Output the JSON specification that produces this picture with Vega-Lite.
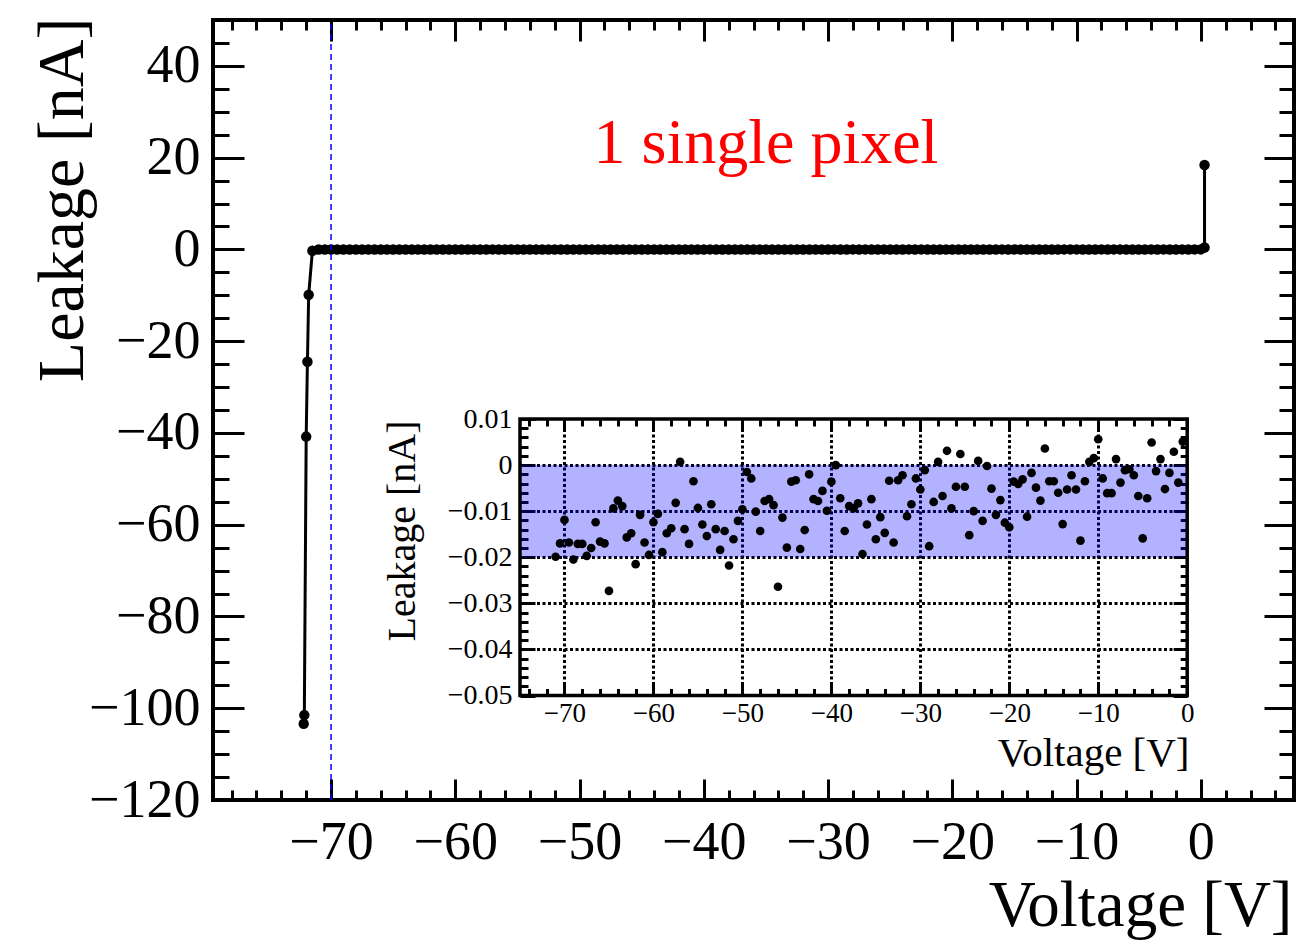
{
  "$schema": "https://vega.github.io/schema/vega-lite/v6.json",
  "width": 1081,
  "height": 780,
  "autosize": {"type": "none"},
  "padding": {"left": 213, "top": 20, "right": 2, "bottom": 140},
  "background": "white",
  "config": {
    "view": {"stroke": "black", "strokeWidth": 4},
    "axis": {
      "labelFont": "Liberation Serif",
      "titleFont": "Liberation Serif",
      "titleFontWeight": "normal",
      "labelColor": "black",
      "titleColor": "black",
      "tickColor": "black",
      "tickWidth": 3,
      "domain": false,
      "grid": false,
      "labelFlush": false,
      "labelOverlap": false,
      "labelBound": false,
      "zindex": 0
    }
  },
  "datasets": {
    "iv": [
      {"k":0,"v":-72.2,"I":-103.4},{"k":1,"v":-72.15,"I":-101.5},{"k":2,"v":-72.0,"I":-40.8},{"k":3,"v":-71.9,"I":-24.5},{"k":4,"v":-71.8,"I":-9.9},{"k":5,"v":-71.5,"I":-0.3},
      {"k":6,"v":-71,"I":-0.0199},{"k":7,"v":-70.5,"I":-0.017},{"k":8,"v":-70,"I":-0.0119},{"k":9,"v":-69.5,"I":-0.0168},{"k":10,"v":-69,"I":-0.0205},
      {"k":11,"v":-68.5,"I":-0.0171},{"k":12,"v":-68,"I":-0.0171},{"k":13,"v":-67.5,"I":-0.0197},{"k":14,"v":-67,"I":-0.018},{"k":15,"v":-66.5,"I":-0.0124},
      {"k":16,"v":-66,"I":-0.0166},{"k":17,"v":-65.5,"I":-0.017},{"k":18,"v":-65,"I":-0.0273},{"k":19,"v":-64.5,"I":-0.0094},{"k":20,"v":-64,"I":-0.0077},
      {"k":21,"v":-63.5,"I":-0.0089},{"k":22,"v":-63,"I":-0.0157},{"k":23,"v":-62.5,"I":-0.0148},{"k":24,"v":-62,"I":-0.0215},{"k":25,"v":-61.5,"I":-0.0108},
      {"k":26,"v":-61,"I":-0.0168},{"k":27,"v":-60.5,"I":-0.0195},{"k":28,"v":-60,"I":-0.0124},{"k":29,"v":-59.5,"I":-0.0106},{"k":30,"v":-59,"I":-0.0189},
      {"k":31,"v":-58.5,"I":-0.0148},{"k":32,"v":-58,"I":-0.0137},{"k":33,"v":-57.5,"I":-0.0082},{"k":34,"v":-57,"I":0.0007},{"k":35,"v":-56.5,"I":-0.0139},
      {"k":36,"v":-56,"I":-0.0171},{"k":37,"v":-55.5,"I":-0.0035},{"k":38,"v":-55,"I":-0.0093},{"k":39,"v":-54.5,"I":-0.0129},{"k":40,"v":-54,"I":-0.0154},
      {"k":41,"v":-53.5,"I":-0.0085},{"k":42,"v":-53,"I":-0.0139},{"k":43,"v":-52.5,"I":-0.0184},{"k":44,"v":-52,"I":-0.0143},{"k":45,"v":-51.5,"I":-0.0218},
      {"k":46,"v":-51,"I":-0.0161},{"k":47,"v":-50.5,"I":-0.0121},{"k":48,"v":-50,"I":-0.0096},{"k":49,"v":-49.5,"I":-0.0015},{"k":50,"v":-49,"I":-0.0029},
      {"k":51,"v":-48.5,"I":-0.0101},{"k":52,"v":-48,"I":-0.0143},{"k":53,"v":-47.5,"I":-0.0078},{"k":54,"v":-47,"I":-0.0074},{"k":55,"v":-46.5,"I":-0.0087},
      {"k":56,"v":-46,"I":-0.0264},{"k":57,"v":-45.5,"I":-0.0114},{"k":58,"v":-45,"I":-0.0179},{"k":59,"v":-44.5,"I":-0.0036},{"k":60,"v":-44,"I":-0.0033},
      {"k":61,"v":-43.5,"I":-0.0182},{"k":62,"v":-43,"I":-0.0141},{"k":63,"v":-42.5,"I":-0.002},{"k":64,"v":-42,"I":-0.0074},{"k":65,"v":-41.5,"I":-0.0078},
      {"k":66,"v":-41,"I":-0.0056},{"k":67,"v":-40.5,"I":-0.0099},{"k":68,"v":-40,"I":-0.0036},{"k":69,"v":-39.5,"I":0.0},{"k":70,"v":-39,"I":-0.0072},
      {"k":71,"v":-38.5,"I":-0.0143},{"k":72,"v":-38,"I":-0.0089},{"k":73,"v":-37.5,"I":-0.0094},{"k":74,"v":-37,"I":-0.0083},{"k":75,"v":-36.5,"I":-0.0193},
      {"k":76,"v":-36,"I":-0.0129},{"k":77,"v":-35.5,"I":-0.0074},{"k":78,"v":-35,"I":-0.0161},{"k":79,"v":-34.5,"I":-0.0113},{"k":80,"v":-34,"I":-0.0147},
      {"k":81,"v":-33.5,"I":-0.0034},{"k":82,"v":-33,"I":-0.0168},{"k":83,"v":-32.5,"I":-0.0033},{"k":84,"v":-32,"I":-0.0022},{"k":85,"v":-31.5,"I":-0.0111},
      {"k":86,"v":-31,"I":-0.0085},{"k":87,"v":-30.5,"I":-0.0029},{"k":88,"v":-30,"I":-0.0053},{"k":89,"v":-29.5,"I":-0.0011},{"k":90,"v":-29,"I":-0.0176},
      {"k":91,"v":-28.5,"I":-0.008},{"k":92,"v":-28,"I":0.0007},{"k":93,"v":-27.5,"I":-0.0067},{"k":94,"v":-27,"I":0.0031},{"k":95,"v":-26.5,"I":-0.0094},
      {"k":96,"v":-26,"I":-0.0047},{"k":97,"v":-25.5,"I":0.0024},{"k":98,"v":-25,"I":-0.0047},{"k":99,"v":-24.5,"I":-0.0152},{"k":100,"v":-24,"I":-0.01},
      {"k":101,"v":-23.5,"I":0.0009},{"k":102,"v":-23,"I":-0.0121},{"k":103,"v":-22.5,"I":-0.0002},{"k":104,"v":-22,"I":-0.0051},{"k":105,"v":-21.5,"I":-0.0108},
      {"k":106,"v":-21,"I":-0.0076},{"k":107,"v":-20.5,"I":-0.0125},{"k":108,"v":-20,"I":-0.0135},{"k":109,"v":-19.5,"I":-0.0036},{"k":110,"v":-19,"I":-0.0041},
      {"k":111,"v":-18.5,"I":-0.0031},{"k":112,"v":-18,"I":-0.0112},{"k":113,"v":-17.5,"I":-0.0017},{"k":114,"v":-17,"I":-0.0049},{"k":115,"v":-16.5,"I":-0.0077},
      {"k":116,"v":-16,"I":0.0036},{"k":117,"v":-15.5,"I":-0.0035},{"k":118,"v":-15,"I":-0.0035},{"k":119,"v":-14.5,"I":-0.006},{"k":120,"v":-14,"I":-0.0128},
      {"k":121,"v":-13.5,"I":-0.0053},{"k":122,"v":-13,"I":-0.0022},{"k":123,"v":-12.5,"I":-0.0053},{"k":124,"v":-12,"I":-0.0164},{"k":125,"v":-11.5,"I":-0.0035},
      {"k":126,"v":-11,"I":0.0007},{"k":127,"v":-10.5,"I":0.0015},{"k":128,"v":-10,"I":0.0056},{"k":129,"v":-9.5,"I":-0.0029},{"k":130,"v":-9,"I":-0.0061},
      {"k":131,"v":-8.5,"I":-0.0061},{"k":132,"v":-8,"I":0.0013},{"k":133,"v":-7.5,"I":-0.0038},{"k":134,"v":-7,"I":-0.0011},{"k":135,"v":-6.5,"I":-0.0009},
      {"k":136,"v":-6,"I":-0.0022},{"k":137,"v":-5.5,"I":-0.0067},{"k":138,"v":-5,"I":-0.0159},{"k":139,"v":-4.5,"I":-0.0072},{"k":140,"v":-4,"I":0.0049},
      {"k":141,"v":-3.5,"I":-0.0013},{"k":142,"v":-3,"I":0.0013},{"k":143,"v":-2.5,"I":-0.0052},{"k":144,"v":-2,"I":-0.0017},{"k":145,"v":-1.5,"I":0.0029},
      {"k":146,"v":-1,"I":-0.0038},{"k":147,"v":-0.5,"I":0.0051},{"k":148,"v":0,"I":0.0},{"k":149,"v":0.3,"I":0.4},{"k":150,"v":0.3,"I":18.4}
    ]
  },
  "resolve": {"scale": {"x": "independent", "y": "independent"}, "axis": {"x": "independent", "y": "independent"}},
  "layer": [
    {
      "resolve": {"axis": {"x": "independent", "y": "independent"}},
      "layer": [
        {
          "data": {"name": "iv"},
          "mark": {"type": "line", "color": "black", "strokeWidth": 3},
          "encoding": {
            "x": {"field": "v", "type": "quantitative", "scale": {"domain": [-79.5, 7.5], "nice": false, "zero": false},
              "axis": {"orient": "bottom", "values": [-70, -60, -50, -40, -30, -20, -10, 0], "tickSize": -21, "labelFontSize": 54, "labelPadding": 63, "labelBaseline": "middle", "format": "d",
                "title": "Voltage [V]", "titleFontSize": 65, "titleX": 1079, "titleY": 125, "titleAlign": "right", "titleBaseline": "alphabetic", "titleAngle": 0}},
            "y": {"field": "I", "type": "quantitative", "scale": {"domain": [-120, 50], "nice": false, "zero": false},
              "axis": {"orient": "left", "values": [-120, -100, -80, -60, -40, -20, 0, 20, 40], "tickSize": -31, "labelFontSize": 54, "labelPadding": 44, "format": "d",
                "title": "Leakage [nA]", "titleFontSize": 66, "titleX": -131, "titleY": -3, "titleAlign": "right", "titleBaseline": "alphabetic", "titleAngle": 270}},
            "order": {"field": "k", "type": "quantitative"}
          }
        },
        {
          "data": {"name": "iv"},
          "mark": {"type": "circle", "color": "black", "size": 110, "opacity": 1},
          "encoding": {
            "x": {"field": "v", "type": "quantitative", "scale": {"domain": [-79.5, 7.5], "nice": false, "zero": false},
              "axis": {"orient": "bottom", "values": [-78,-76,-74,-72,-70,-68,-66,-64,-62,-60,-58,-56,-54,-52,-50,-48,-46,-44,-42,-40,-38,-36,-34,-32,-30,-28,-26,-24,-22,-20,-18,-16,-14,-12,-10,-8,-6,-4,-2,0,2,4,6], "tickSize": -10, "labels": false, "title": null}},
            "y": {"field": "I", "type": "quantitative", "scale": {"domain": [-120, 50], "nice": false, "zero": false},
              "axis": {"orient": "left", "values": [-120,-115,-110,-105,-100,-95,-90,-85,-80,-75,-70,-65,-60,-55,-50,-45,-40,-35,-30,-25,-20,-15,-10,-5,0,5,10,15,20,25,30,35,40,45,50], "tickSize": -16, "labels": false, "title": null}}
          }
        },
        {
          "data": {"values": [{}]},
          "mark": {"type": "rule", "color": "#0000ff", "strokeWidth": 1.5, "strokeDash": [6, 4]},
          "encoding": {
            "x": {"datum": -70, "type": "quantitative", "scale": {"domain": [-79.5, 7.5], "nice": false, "zero": false},
              "axis": {"orient": "top", "values": [-70, -60, -50, -40, -30, -20, -10, 0], "tickSize": -21, "labels": false, "title": null}},
            "y": {"datum": -120, "type": "quantitative", "scale": {"domain": [-120, 50], "nice": false, "zero": false},
              "axis": {"orient": "right", "values": [-120, -100, -80, -60, -40, -20, 0, 20, 40], "tickSize": -30, "labels": false, "title": null}},
            "y2": {"datum": 50}
          }
        },
        {
          "data": {"values": [{}]},
          "mark": {"type": "text", "text": "1 single pixel", "font": "Liberation Serif", "fontSize": 64, "color": "#ff0000", "align": "center", "baseline": "alphabetic"},
          "encoding": {
            "x": {"datum": -35, "type": "quantitative", "scale": {"domain": [-79.5, 7.5], "nice": false, "zero": false},
              "axis": {"orient": "top", "values": [-78,-76,-74,-72,-70,-68,-66,-64,-62,-60,-58,-56,-54,-52,-50,-48,-46,-44,-42,-40,-38,-36,-34,-32,-30,-28,-26,-24,-22,-20,-18,-16,-14,-12,-10,-8,-6,-4,-2,0,2,4,6], "tickSize": -10, "labels": false, "title": null}},
            "y": {"datum": 18.8, "type": "quantitative", "scale": {"domain": [-120, 50], "nice": false, "zero": false},
              "axis": {"orient": "right", "values": [-120,-115,-110,-105,-100,-95,-90,-85,-80,-75,-70,-65,-60,-55,-50,-45,-40,-35,-30,-25,-20,-15,-10,-5,0,5,10,15,20,25,30,35,40,45,50], "tickSize": -15, "labels": false, "title": null}}
          }
        }
      ]
    },
    {
      "resolve": {"axis": {"x": "independent", "y": "independent"}},
      "layer": [
        {
          "data": {"values": [{}]},
          "mark": {"type": "rect", "color": "#0000ff", "opacity": 0.3},
          "encoding": {
            "x": {"datum": -75, "type": "quantitative", "scale": {"domain": [-75, 0], "range": [307, 974.2], "nice": false, "zero": false},
              "axis": {"orient": "top", "offset": -399, "values": [-74,-72,-70,-68,-66,-64,-62,-60,-58,-56,-54,-52,-50,-48,-46,-44,-42,-40,-38,-36,-34,-32,-30,-28,-26,-24,-22,-20,-18,-16,-14,-12,-10,-8,-6,-4,-2,0],
                "tickSize": {"condition": {"test": "datum.value % 10 === 0", "value": -12}, "value": -7},
                "labels": false, "title": null,
                "grid": true, "gridColor": "black", "gridWidth": 3, "gridDash": [3, 2.5],
                "gridOpacity": {"condition": {"test": "datum.value % 10 === 0 && datum.value < 0", "value": 1}, "value": 0}}},
            "x2": {"datum": 0},
            "y": {"datum": -0.02, "type": "quantitative", "scale": {"domain": [-0.05, 0.01], "range": [675.5, 399], "nice": false, "zero": false},
              "axis": {"orient": "left", "offset": -307, "values": [-0.05,-0.048,-0.046,-0.044,-0.042,-0.04,-0.038,-0.036,-0.034,-0.032,-0.03,-0.028,-0.026,-0.024,-0.022,-0.02,-0.018,-0.016,-0.014,-0.012,-0.01,-0.008,-0.006,-0.004,-0.002,0,0.002,0.004,0.006,0.008,0.01],
                "tickSize": {"condition": {"test": "abs(datum.value*100 - round(datum.value*100)) < 1e-6", "value": -15}, "value": -8},
                "labelExpr": "abs(datum.value*100 - round(datum.value*100)) < 1e-6 ? format(datum.value, '.2~f') : ''",
                "labelFontSize": 28, "labelPadding": 23,
                "grid": true, "gridColor": "black", "gridWidth": 3, "gridDash": [3, 2.5],
                "gridOpacity": {"condition": {"test": "abs(datum.value*100 - round(datum.value*100)) < 1e-6 && datum.value < 0.005 && datum.value > -0.045", "value": 1}, "value": 0},
                "title": "Leakage [nA]", "titleFontSize": 40, "titleX": -105.5, "titleY": 400, "titleAlign": "right", "titleBaseline": "alphabetic", "titleAngle": 270}},
            "y2": {"datum": 0}
          }
        },
        {
          "data": {"name": "iv"},
          "transform": [{"filter": "datum.v >= -71 && datum.v < 0"}],
          "mark": {"type": "circle", "color": "black", "size": 75, "opacity": 1},
          "encoding": {
            "x": {"field": "v", "type": "quantitative", "scale": {"domain": [-75, 0], "range": [307, 974.2], "nice": false, "zero": false},
              "axis": {"orient": "bottom", "offset": -104.5, "values": [-74,-72,-70,-68,-66,-64,-62,-60,-58,-56,-54,-52,-50,-48,-46,-44,-42,-40,-38,-36,-34,-32,-30,-28,-26,-24,-22,-20,-18,-16,-14,-12,-10,-8,-6,-4,-2,0],
                "tickSize": {"condition": {"test": "datum.value % 10 === 0", "value": -12}, "value": -7},
                "labelExpr": "datum.value % 10 === 0 ? format(datum.value, 'd') : ''",
                "labelFontSize": 27, "labelPadding": 30, "labelBaseline": "middle",
                "title": "Voltage [V]", "titleFontSize": 41, "titleX": 976, "titleY": 69.5, "titleAlign": "right", "titleBaseline": "alphabetic", "titleAngle": 0}},
            "y": {"field": "I", "type": "quantitative", "scale": {"domain": [-0.05, 0.01], "range": [675.5, 399], "nice": false, "zero": false},
              "axis": {"orient": "right", "offset": -106.8, "values": [-0.05,-0.048,-0.046,-0.044,-0.042,-0.04,-0.038,-0.036,-0.034,-0.032,-0.03,-0.028,-0.026,-0.024,-0.022,-0.02,-0.018,-0.016,-0.014,-0.012,-0.01,-0.008,-0.006,-0.004,-0.002,0,0.002,0.004,0.006,0.008,0.01],
                "tickSize": {"condition": {"test": "abs(datum.value*100 - round(datum.value*100)) < 1e-6", "value": -14}, "value": -7},
                "labels": false, "title": null}}
          }
        },
        {
          "data": {"values": [{}]},
          "mark": {"type": "rect", "fillOpacity": 0, "stroke": "black", "strokeWidth": 3.5},
          "encoding": {
            "x": {"datum": -75, "type": "quantitative", "scale": {"domain": [-75, 0], "range": [307, 974.2], "nice": false, "zero": false}, "axis": null},
            "x2": {"datum": 0},
            "y": {"datum": -0.05, "type": "quantitative", "scale": {"domain": [-0.05, 0.01], "range": [675.5, 399], "nice": false, "zero": false}, "axis": null},
            "y2": {"datum": 0.01}
          }
        }
      ]
    }
  ]
}
